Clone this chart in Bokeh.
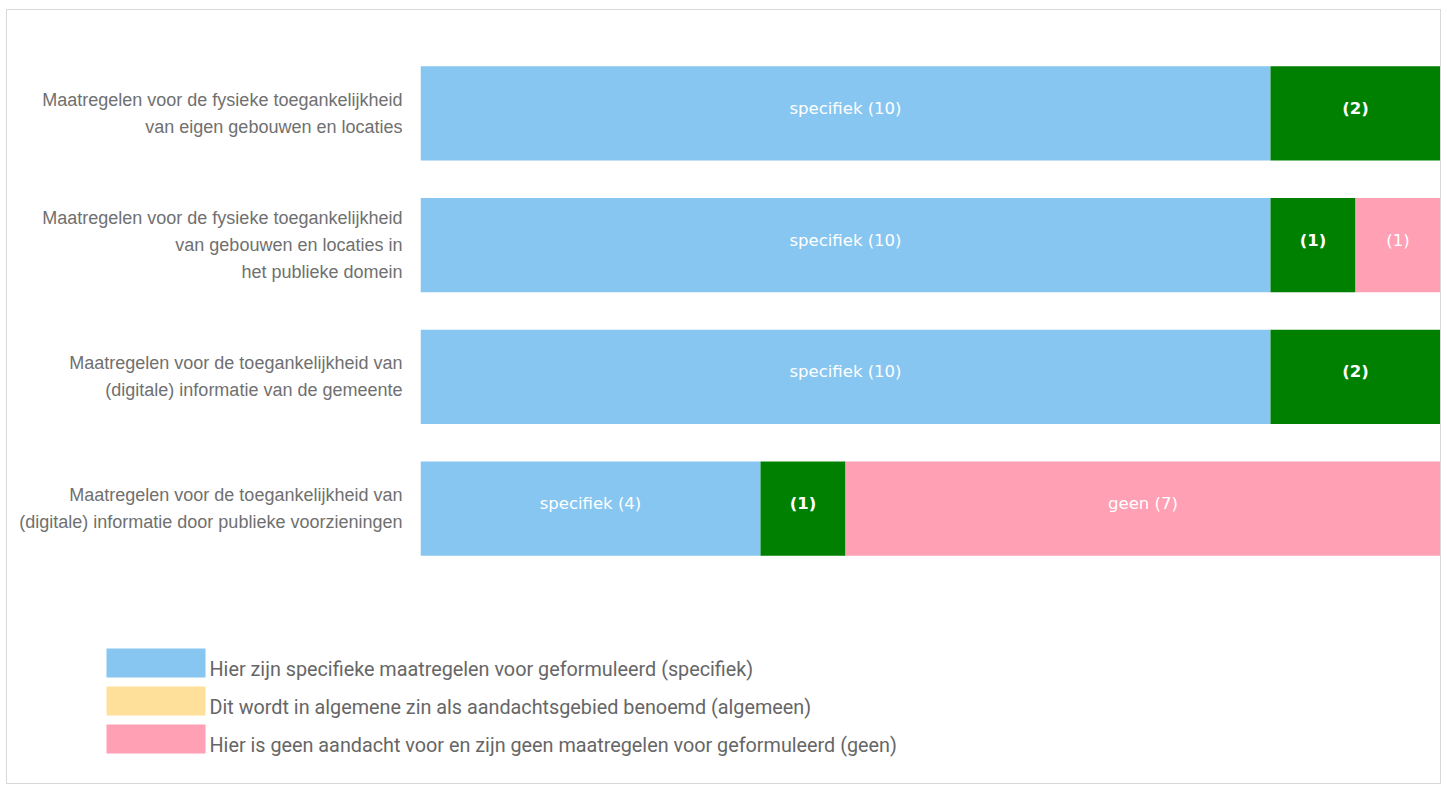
import numpy as np
from bokeh.plotting import figure
from bokeh.layouts import column
from bokeh.models import ColumnDataSource, FactorRange, Range1d
from bokeh.core.properties import value
from bokeh.embed import file_html
from bokeh.resources import INLINE

categories = [
    "Maatregelen voor de fysieke toegankelijkheid\nvan eigen gebouwen en locaties",
    "Maatregelen voor de fysieke toegankelijkheid\nvan gebouwen en locaties in\nhet publieke domein",
    "Maatregelen voor de toegankelijkheid van\n(digitale) informatie van de gemeente",
    "Maatregelen voor de toegankelijkheid van\n(digitale) informatie door publieke voorzieningen",
]
specifiek = [10, 10, 10, 4]
algemeen = [2, 1, 2, 1]
geen = [0, 1, 0, 7]

spec_labels = ["specifiek (10)", "specifiek (10)", "specifiek (10)", "specifiek (4)"]
alg_labels = ["(2)", "(1)", "(2)", "(1)"]
geen_labels = ["", "(1)", "", "geen (7)"]

legend_labels = [
    "Hier zijn specifieke maatregelen voor geformuleerd (specifiek)",
    "Dit wordt in algemene zin als aandachtsgebied benoemd (algemeen)",
    "Hier is geen aandacht voor en zijn geen maatregelen voor geformuleerd (geen)",
]

C_BLUE = "#87c6f1"
C_GREEN = "#008000"
C_PINK = "#ffa0b4"
C_YELLOW = "#ffe09b"
legend_colors = [C_BLUE, C_YELLOW, C_PINK]

s = np.array(specifiek, dtype=float)
a = np.array(algemeen, dtype=float)
g = np.array(geen, dtype=float)

W = 1433
H_TOP = 580
H_BOT = 193

p = figure(
    width=W, height=H_TOP,
    y_range=FactorRange(factors=list(reversed(categories)), range_padding=0),
    x_range=Range1d(0, 12),
    output_backend="svg", toolbar_location=None,
    x_axis_location=None,
    min_border_left=413, min_border_right=0, min_border_top=37, min_border_bottom=16,
)
p.frame_align = False
p.outline_line_color = None
p.xgrid.visible = False
p.ygrid.visible = False

BH = 0.714
src_s = ColumnDataSource(dict(y=categories, left=np.zeros(4), right=s, xc=s / 2, lab=spec_labels))
src_a = ColumnDataSource(dict(y=categories, left=s, right=s + a, xc=s + a / 2, lab=alg_labels))
src_g = ColumnDataSource(dict(y=categories, left=s + a, right=s + a + g, xc=s + a + g / 2, lab=geen_labels))

p.hbar(y="y", left="left", right="right", height=BH, source=src_s, fill_color=C_BLUE, line_color=None)
p.hbar(y="y", left="left", right="right", height=BH, source=src_a, fill_color=C_GREEN, line_color=None)
p.hbar(y="y", left="left", right="right", height=BH, source=src_g, fill_color=C_PINK, line_color=None)

for src, bold in ((src_s, False), (src_a, True), (src_g, False)):
    p.text(x="xc", y="y", text="lab", source=src, text_color="white",
           text_font=value("DejaVu Sans"), text_font_size="16.5px",
           text_font_style="bold" if bold else "normal",
           text_align="center", text_baseline="middle", y_offset=-5)

ax = p.yaxis[0]
ax.axis_line_color = None
ax.major_tick_line_color = None
ax.major_tick_out = 0
ax.major_tick_in = 0
ax.major_label_standoff = 18
ax.major_label_text_font = "Liberation Sans"
ax.major_label_text_font_size = "18px"
ax.major_label_text_color = "#707070"
ax.major_label_text_line_height = 1.35

# legend panel: pixel-scaled ranges (y grows downward)
q = figure(
    width=W, height=H_BOT,
    x_range=Range1d(0, W), y_range=Range1d(H_BOT, 0),
    output_backend="svg", toolbar_location=None,
    x_axis_location=None, y_axis_location=None,
    min_border=0,
)
q.frame_align = False
q.outline_line_color = None
q.xgrid.visible = False
q.ygrid.visible = False

SW_LEFT, SW_W, SW_H, TOP0, PITCH = 99, 99, 29, 58, 38
idx = np.arange(len(legend_labels))
top = TOP0 + idx * PITCH
leg_src = ColumnDataSource(dict(
    left=np.full(len(idx), SW_LEFT), right=np.full(len(idx), SW_LEFT + SW_W),
    top=top, bottom=top + SW_H, color=legend_colors,
    tx=np.full(len(idx), SW_LEFT + SW_W + 4), ty=top + SW_H - 8, lab=legend_labels,
))
q.quad(left="left", right="right", top="top", bottom="bottom", fill_color="color",
       line_color=None, source=leg_src)
q.text(x="tx", y="ty", text="lab", source=leg_src, text_font=value("Roboto"),
       text_font_size="19.8px", text_color="#666666", text_align="left",
       text_baseline="alphabetic")

layout = column(p, q, spacing=0, margin=(9, 0, 0, 6),
                styles={"border": "1px solid #d8d8d8"})

open("out.html", "w").write(file_html(layout, INLINE))
